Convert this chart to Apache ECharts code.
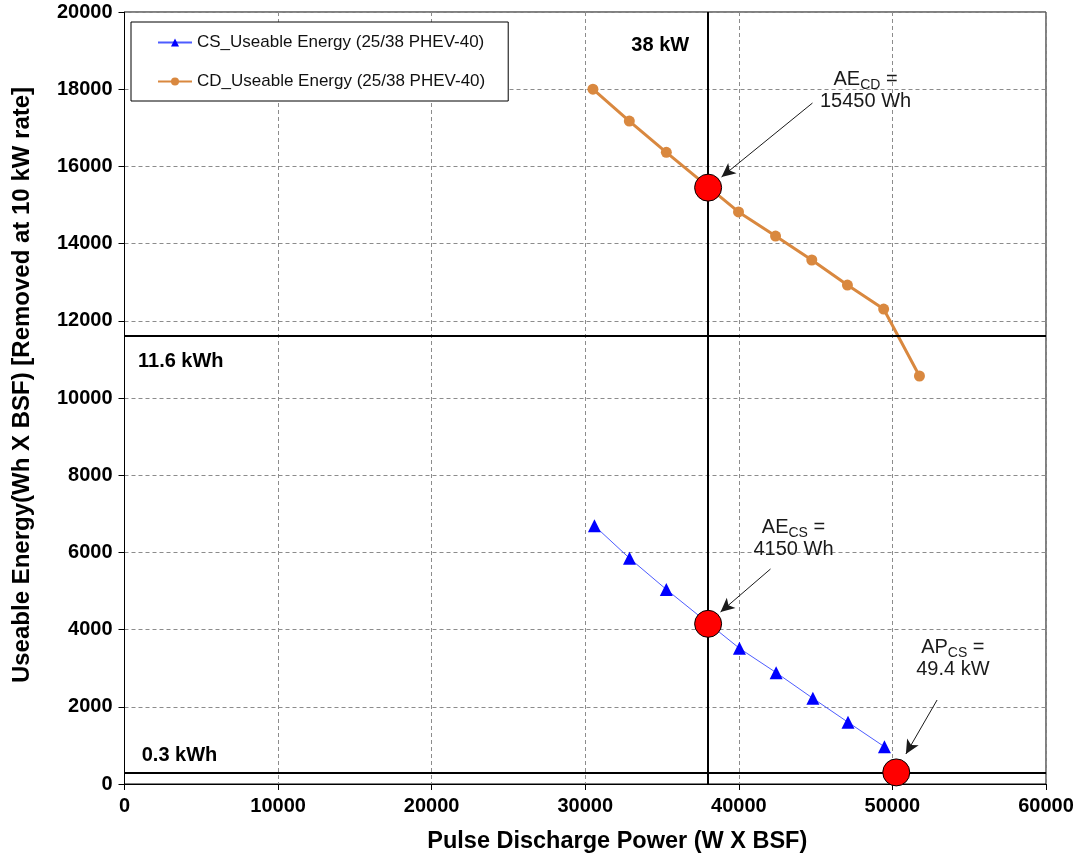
<!DOCTYPE html>
<html><head><meta charset="utf-8">
<script src="https://cdn.jsdelivr.net/npm/echarts@6/dist/echarts.min.js"></script>
<style>html,body{margin:0;padding:0;background:#fff}#c{width:1078px;height:859px}</style>
</head><body><div id="c"></div>
<script>
// ---- data ----
const csPower  = [30600, 32880, 35280, 40040, 42430, 44820, 47110, 49480];
const csEnergy = [6690, 5850, 5040, 3515, 2885, 2220, 1600, 965];
const cdPower  = [30500, 32870, 35280, 39980, 42390, 44750, 47070, 49430, 51760];
const cdEnergy = [18000, 17175, 16365, 14820, 14195, 13575, 12925, 12305, 10570];
const keyPower  = [38000, 38000, 50250];
const keyEnergy = [15450, 4150, 300];
const refPower  = [38000];
const refEnergy = [11600, 300];
const xTicks = {min: 0, max: 60000, interval: 10000};
const yTicks = {min: 0, max: 20000, interval: 2000};
// annotation texts and their anchor positions (data units)
const noteText = ['AE_CD =\n15450 Wh', 'AE_CS =\n4150 Wh', 'AP_CS =\n49.4 kW'];
const notePos  = [[48250, 17990], [43560, 6386], [53935, 3277]];
const arrowFrom = [[44795, 17642], [42062, 5570], [52908, 2176]];
const arrowTo   = [[38875, 15725], [38809, 4456], [50878, 777]];
const refText = ['38 kW', '11.6 kWh', '0.3 kWh'];
const refPos  = [[33000, 19145], [878, 10940], [1120, 751]];

const FONT = '"Liberation Sans", Arial, sans-serif';
const csPts = csPower.map((x, i) => [x, csEnergy[i]]);
const cdPts = cdPower.map((x, i) => [x, cdEnergy[i]]);
const keyPts = keyPower.map((x, i) => [x, keyEnergy[i]]);

function richNote(t) {
  const [l1, l2] = t.split('\n');
  const m = l1.match(/^(\w\w)_(\w+)(.*)$/);
  return '{a|' + m[1] + '}{s|' + m[2] + '}{a|' + m[3] + '}\n{a|' + l2 + '}';
}

const noteData = noteText.map((t, i) => ({
  value: notePos[i],
  label: {formatter: richNote(t)}
}));
const refData = refText.map((t, i) => ({value: refPos[i], label: {formatter: t}}));

const chart = echarts.init(document.getElementById('c'), null, {renderer: 'canvas'});
chart.setOption({
  animation: false,
  backgroundColor: '#fff',
  grid: {left: 124.5, right: 32, top: 12, bottom: 75, show: true, borderColor: '#000', borderWidth: 1, containLabel: false},
  legend: {
    data: ['CS_Useable Energy (25/38 PHEV-40)', 'CD_Useable Energy (25/38 PHEV-40)'],
    orient: 'vertical', left: 131, top: 22,
    padding: [12, 23, 11, 26], itemGap: 22, itemWidth: 34, itemHeight: 10,
    backgroundColor: '#fff', borderColor: '#000', borderWidth: 1,
    textStyle: {fontFamily: FONT, fontSize: 17, color: '#111'},
    selectedMode: false
  },
  xAxis: {
    type: 'value', min: xTicks.min, max: xTicks.max, interval: xTicks.interval,
    name: 'Pulse Discharge Power (W X BSF)', nameLocation: 'middle', nameGap: 46,
    nameTextStyle: {fontFamily: FONT, fontSize: 23.5, fontWeight: 'bold', color: '#000', padding: [0, 0, 0, 64]},
    axisLine: {show: true, lineStyle: {color: '#000', width: 1}},
    axisTick: {show: true, inside: false, length: 6, lineStyle: {color: '#000'}},
    axisLabel: {fontFamily: FONT, fontSize: 20, fontWeight: 'bold', color: '#000', margin: 12,
      formatter: v => String(v)},
    splitLine: {show: true, lineStyle: {color: '#8c8c8c', type: [4, 3], width: 1}}
  },
  yAxis: {
    type: 'value', min: yTicks.min, max: yTicks.max, interval: yTicks.interval,
    name: 'Useable Energy(Wh X BSF) [Removed at 10 kW rate]', nameLocation: 'middle', nameGap: 90,
    nameTextStyle: {fontFamily: FONT, fontSize: 24, fontWeight: 'bold', color: '#000', padding: [0, 0, 0, 26]},
    axisLine: {show: true, lineStyle: {color: '#000', width: 1}},
    axisTick: {show: true, inside: false, length: 6, lineStyle: {color: '#000'}},
    axisLabel: {fontFamily: FONT, fontSize: 20, fontWeight: 'bold', color: '#000', margin: 12,
      formatter: v => String(v)},
    splitLine: {show: true, lineStyle: {color: '#8c8c8c', type: [4, 3], width: 1}}
  },
  series: [
    {
      name: 'refLines', type: 'line', data: [], silent: true, z: 3,
      markLine: {
        silent: true, symbol: 'none', animation: false,
        label: {show: false},
        lineStyle: {color: '#000', width: 2, type: 'solid', opacity: 1},
        data: refPower.map(v => ({xAxis: v})).concat(refEnergy.map(v => ({yAxis: v})))
      }
    },
    {
      name: 'CS_Useable Energy (25/38 PHEV-40)', type: 'line', data: csPts, z: 4,
      symbol: 'triangle', symbolSize: 13, showSymbol: true,
      lineStyle: {color: '#4d5cff', width: 1},
      itemStyle: {color: '#0000ff'}
    },
    {
      name: 'CD_Useable Energy (25/38 PHEV-40)', type: 'line', data: cdPts, z: 4,
      symbol: 'circle', symbolSize: 11, showSymbol: true,
      lineStyle: {color: '#d9883f', width: 3},
      itemStyle: {color: '#d9883f'}
    },
    {
      name: 'key', type: 'scatter', data: keyPts, z: 6,
      symbol: 'circle', symbolSize: 27,
      itemStyle: {color: '#ff0000', borderColor: '#000', borderWidth: 1, opacity: 1}
    },
    {
      name: 'notes', type: 'scatter', data: noteData, z: 7, symbolSize: 0, silent: true,
      itemStyle: {opacity: 1},
      label: {
        show: true, position: 'inside', align: 'center', verticalAlign: 'middle',
        fontFamily: FONT, color: '#1a1a1a', opacity: 1,
        rich: {
          a: {fontFamily: FONT, fontSize: 20, color: '#1a1a1a', lineHeight: 22, verticalAlign: 'bottom'},
          s: {fontFamily: FONT, fontSize: 14, color: '#1a1a1a', lineHeight: 22, verticalAlign: 'bottom', padding: [0, 0, -3, 0]}
        }
      },
      markLine: {
        silent: true, animation: false,
        symbol: ['none', 'arrow'], symbolSize: [10, 14],
        label: {show: false},
        lineStyle: {color: '#1a1a1a', width: 1, type: 'solid', opacity: 1},
        itemStyle: {color: '#1a1a1a'},
        data: arrowFrom.map((p, i) => [{coord: p}, {coord: arrowTo[i]}])
      }
    },
    {
      name: 'refNotes', type: 'scatter', data: refData, z: 7, symbolSize: 0, silent: true,
      itemStyle: {opacity: 1},
      label: {
        show: true, position: 'right', distance: 0, align: 'left', verticalAlign: 'middle',
        fontFamily: FONT, fontSize: 20, fontWeight: 'bold', color: '#000', opacity: 1
      }
    }
  ]
});
</script>
</body></html>
